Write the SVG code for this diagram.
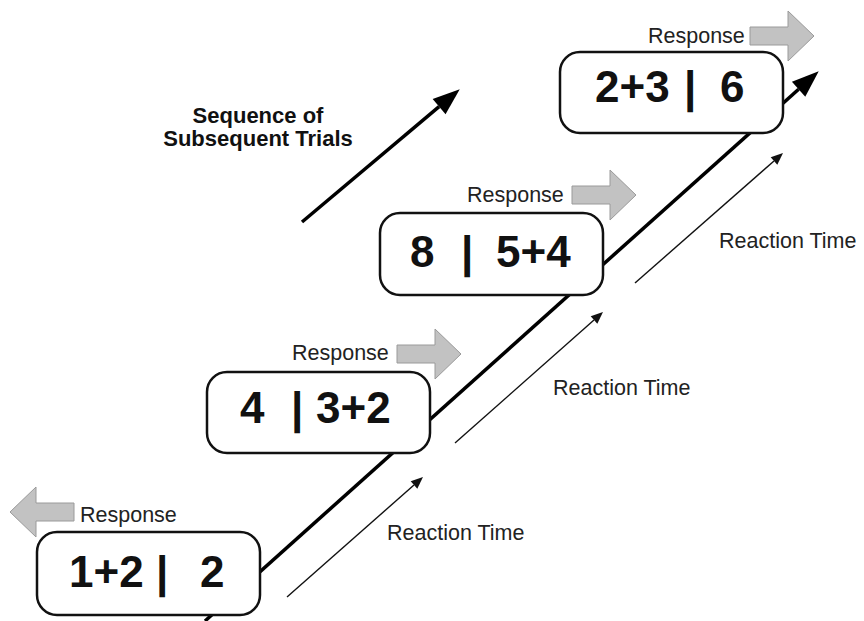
<svg xmlns="http://www.w3.org/2000/svg" width="864" height="621" viewBox="0 0 864 621">
<defs>
<style>
.box{fill:#fff;stroke:#111;stroke-width:2.5}
.num{font-family:"Liberation Sans",Arial,sans-serif;font-weight:bold;font-size:44px;fill:#111}
.lbl{font-family:"Liberation Sans",Arial,sans-serif;font-size:21.5px;fill:#222}
.ttl{font-family:"Liberation Sans",Arial,sans-serif;font-weight:bold;font-size:22px;fill:#111}
.thick{fill:none;stroke:#000;stroke-width:3.5}
.thin{fill:none;stroke:#111;stroke-width:1.4}
.resp{fill:#c2c2c2;stroke:#9a9a9a;stroke-width:1}
</style>
<marker id="bigHead" markerUnits="userSpaceOnUse" markerWidth="30" markerHeight="24" refX="0" refY="0" viewBox="0 -12 30 24" orient="auto" overflow="visible">
<path d="M0,-10 L27,0 L0,10 Z" fill="#000"/>
</marker>
<marker id="smallHead" markerUnits="userSpaceOnUse" markerWidth="14" markerHeight="12" refX="0" refY="0" viewBox="0 -6 14 12" orient="auto" overflow="visible">
<path d="M0,-5 L12,0 L0,5 Z" fill="#111"/>
</marker>
<polygon id="respArrow" points="0,-9 38,-9 38,-25 64,0 38,25 38,9 0,9"/>
</defs>
<rect width="864" height="621" fill="#fff"/>
<g id="connectors">
<path class="thick" d="M205,621 L798.6,89.3" marker-end="url(#bigHead)"/>
<path class="thick" d="M302,222 L439.1,106.7" marker-end="url(#bigHead)"/>
<path class="thin" d="M287,597 L414,485" marker-end="url(#smallHead)"/>
<path class="thin" d="M455,443 L594,320" marker-end="url(#smallHead)"/>
<path class="thin" d="M635,283 L774,161" marker-end="url(#smallHead)"/>
</g>
<g id="title">
<text class="ttl" x="258" y="123" text-anchor="middle">Sequence of</text>
<text class="ttl" x="258" y="146" text-anchor="middle">Subsequent Trials</text>
</g>
<g id="trial1">
<rect class="box" x="37" y="532" width="223" height="83" rx="20"/>
<text class="num" y="587"><tspan x="69">1+2</tspan><tspan x="156">|</tspan><tspan x="200">2</tspan></text>
<use href="#respArrow" class="resp" transform="translate(74,512) scale(-1,1)"/>
<text class="lbl" x="80" y="522">Response</text>
</g>
<g id="trial2">
<rect class="box" x="207" y="372" width="223" height="81" rx="20"/>
<text class="num" y="423"><tspan x="240">4</tspan><tspan x="291">|</tspan><tspan x="316">3+2</tspan></text>
<use href="#respArrow" class="resp" transform="translate(397,354)"/>
<text class="lbl" x="292" y="360">Response</text>
</g>
<g id="trial3">
<rect class="box" x="380" y="213" width="223" height="82" rx="20"/>
<text class="num" y="267"><tspan x="410">8</tspan><tspan x="461">|</tspan><tspan x="496">5+4</tspan></text>
<use href="#respArrow" class="resp" transform="translate(572,195)"/>
<text class="lbl" x="467" y="202">Response</text>
</g>
<g id="trial4">
<rect class="box" x="560" y="52" width="223" height="81" rx="20"/>
<text class="num" y="102"><tspan x="595">2+3</tspan><tspan x="684">|</tspan><tspan x="720">6</tspan></text>
<use href="#respArrow" class="resp" transform="translate(750,36)"/>
<text class="lbl" x="648" y="43">Response</text>
</g>
<g id="rt-labels">
<text class="lbl" x="387" y="540">Reaction Time</text>
<text class="lbl" x="553" y="395">Reaction Time</text>
<text class="lbl" x="719" y="248">Reaction Time</text>
</g>
</svg>
